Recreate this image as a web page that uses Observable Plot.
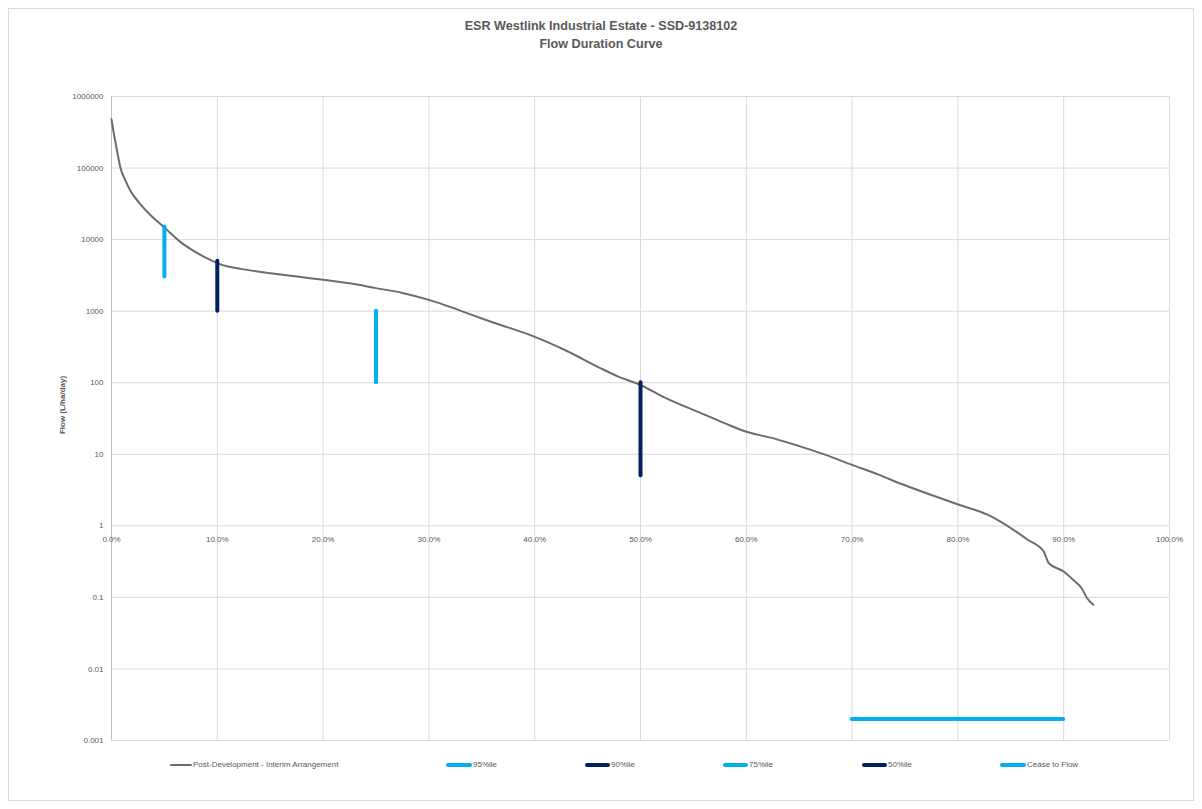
<!DOCTYPE html>
<html>
<head>
<meta charset="utf-8">
<script src="https://cdn.jsdelivr.net/npm/d3@7"></script>
<script src="https://cdn.jsdelivr.net/npm/@observablehq/plot@0.6"></script>
<style>
  html, body { margin: 0; padding: 0; background: #fff; }
  body { width: 1202px; height: 809px; position: relative; overflow: hidden; font-family: "Liberation Sans", Arial, sans-serif; }
  #frame { position: absolute; left: 8px; top: 8px; width: 1186px; height: 793px; border: 1px solid #d9d9d9; box-sizing: border-box; }
  #title { position: absolute; left: 0; width: 1202px; top: 18px; text-align: center; font-weight: bold; font-size: 12.6px; line-height: 17.5px; color: #595959; }
  #ylabel { position: absolute; left: 62px; top: 405px; transform: translate(-50%, -50%) rotate(-90deg); font-size: 8px; font-weight: bold; color: #595959; white-space: nowrap; }
  #chart { position: absolute; left: 0; top: 0; }
  .leg { position: absolute; top: 759px; font-size: 8px; color: #595959; white-space: nowrap; line-height: 12px; }
  .leg i { position: absolute; display: block; border-radius: 2px; }
</style>
</head>
<body>
<div id="frame"></div>
<div id="chart"></div>
<div id="title">ESR Westlink Industrial Estate - SSD-9138102<br>Flow Duration Curve</div>
<div id="ylabel">Flow (L/ha/day)</div>
<div id="legend"></div>
<script>
// Flow duration curve: percent of time exceeded vs flow (L/ha/day)
const curvePct = [0, 0.2, 0.4, 0.6, 0.85, 1.3, 1.8, 2.7, 3.7, 4.6, 5.0, 5.5, 6.5, 7.8, 9.0, 10, 11, 12.2, 15, 17.9, 20, 22.5, 25, 27.5, 30, 32, 33.6, 36, 39.9, 43, 46.2, 48, 50, 52, 55.7, 58, 60, 62.5, 65, 67.5, 70, 72.5, 74.6, 77.5, 80.1, 82.8, 85.0, 86.6, 88.1, 88.6, 90.0, 91.0, 91.7, 92.2, 92.8];
const curveFlow = [480000, 316000, 219000, 151000, 100000, 67600, 47900, 31600, 21900, 16600, 14800, 12600, 9300, 6900, 5500, 4700, 4200, 3900, 3400, 3000, 2750, 2450, 2100, 1800, 1440, 1150, 940, 700, 445, 280, 160, 120, 93, 65, 37.6, 27, 20.6, 16.8, 13.0, 9.8, 7.1, 5.2, 3.87, 2.7, 1.97, 1.43, 0.93, 0.64, 0.44, 0.30, 0.23, 0.17, 0.134, 0.098, 0.079];

// Percentile markers
const markerNames = ["95%ile", "90%ile", "75%ile", "50%ile"];
const markerPct = [5, 10, 25, 50];
const markerLow = [3000, 1000, 100, 5];
const markerHigh = [15000, 5000, 1000, 100];
const markerColors = ["#00b0f0", "#002060", "#00b0f0", "#002060"];

// Cease to flow
const ceasePct = [70, 90];
const ceaseFlow = 0.002;

// Axes ticks
const xTicks = [0, 10, 20, 30, 40, 50, 60, 70, 80, 90, 100];
const yTicks = [0.001, 0.01, 0.1, 1, 10, 100, 1000, 10000, 100000, 1000000];
const yTickLabels = ["0.001", "0.01", "0.1", "1", "10", "100", "1000", "10000", "100000", "1000000"];

const curve = curvePct.map((p, i) => ({pct: p, flow: curveFlow[i]}));
const markers = markerPct.map((p, i) => ({name: markerNames[i], pct: p, low: markerLow[i], high: markerHigh[i], color: markerColors[i]}));

const chart = Plot.plot({
  width: 1202,
  height: 760,
  marginLeft: 111,
  marginRight: 33,
  marginTop: 96,
  marginBottom: 20,
  style: {fontFamily: "'Liberation Sans', Arial, sans-serif", fontSize: "8px", color: "#595959", background: "transparent"},
  x: {domain: [0, 100], axis: null},
  y: {type: "log", domain: [0.001, 1000000], axis: null},
  marks: [
    Plot.ruleX(xTicks, {x: d => d, stroke: "#d9d9d9", strokeWidth: 1}),
    Plot.ruleY(yTicks, {y: d => d, stroke: "#d9d9d9", strokeWidth: 1}),
    Plot.ruleX([0], {stroke: "#bfbfbf", strokeWidth: 1}),
    Plot.text(yTicks, {x: 0, y: d => d, text: (d, i) => yTickLabels[i], textAnchor: "end", dx: -8, fill: "#595959", fontSize: 8}),
    Plot.text(xTicks, {x: d => d, y: () => 1, text: d => d.toFixed(1) + "%", dy: 14, fill: "#595959", fontSize: 8}),
    Plot.line(curve, {x: "pct", y: "flow", stroke: "#6e6b6b", strokeWidth: 2, curve: "monotone-x"}),
    Plot.ruleX(markers, {x: "pct", y1: "low", y2: "high", stroke: "color", strokeWidth: 4, strokeLinecap: "round"}),
    Plot.ruleY([ceaseFlow], {x1: ceasePct[0], x2: ceasePct[1], stroke: "#00b0f0", strokeWidth: 4, strokeLinecap: "round"})
  ]
});
document.getElementById("chart").appendChild(chart);

// Legend
const legendItems = [
  {label: "Post-Development - Interim Arrangement", color: "#6e6b6b", x: 170, w: 22, h: 2},
  {label: markerNames[0], color: markerColors[0], x: 446, w: 26, h: 4},
  {label: markerNames[1], color: markerColors[1], x: 585, w: 25, h: 4},
  {label: markerNames[2], color: markerColors[2], x: 723, w: 25, h: 4},
  {label: markerNames[3], color: markerColors[3], x: 862, w: 25, h: 4},
  {label: "Cease to Flow", color: "#00b0f0", x: 1000, w: 26, h: 4}
];
const leg = document.getElementById("legend");
legendItems.forEach(it => {
  const d = document.createElement("div");
  d.className = "leg";
  d.style.left = it.x + "px";
  d.style.paddingLeft = (it.w + 1) + "px";
  const sw = document.createElement("i");
  sw.style.left = "0px";
  sw.style.top = (6 - it.h / 2) + "px";
  sw.style.width = it.w + "px";
  sw.style.height = it.h + "px";
  sw.style.background = it.color;
  d.appendChild(sw);
  d.appendChild(document.createTextNode(it.label));
  leg.appendChild(d);
});
</script>
</body>
</html>
